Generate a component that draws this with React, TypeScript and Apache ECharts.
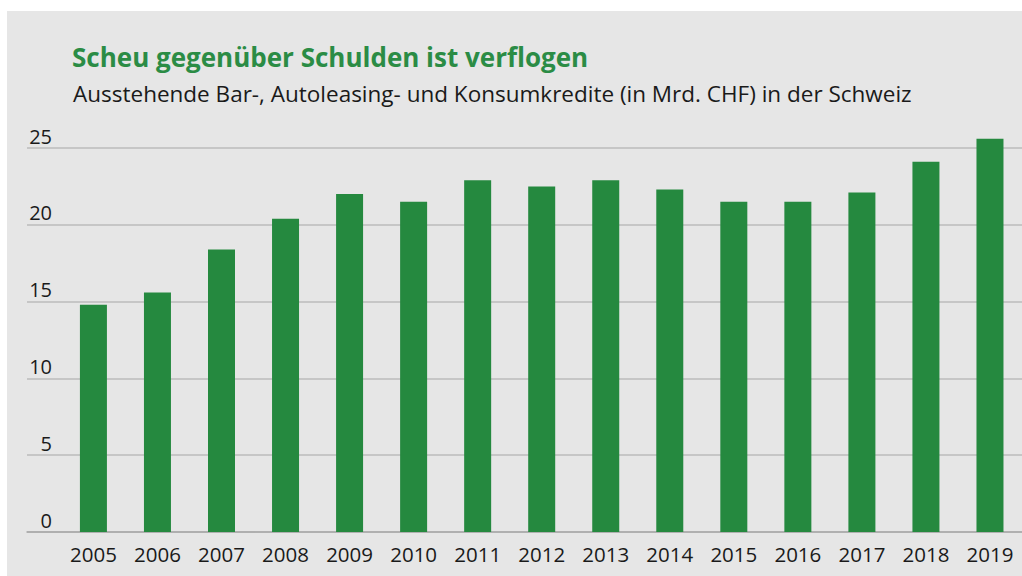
import React, { useEffect, useRef } from "react";
import * as echarts from "echarts";

const years = ["2005", "2006", "2007", "2008", "2009", "2010", "2011", "2012", "2013", "2014", "2015", "2016", "2017", "2018", "2019"];
const credits = [14.8, 15.6, 18.4, 20.4, 22.0, 21.5, 22.9, 22.5, 22.9, 22.3, 21.5, 21.5, 22.1, 24.1, 25.6];
const titleText = "Scheu gegenüber Schulden ist verflogen";
const subtitleText = "Ausstehende Bar-, Autoleasing- und Konsumkredite (in Mrd. CHF) in der Schweiz";

const FONT = "'Open Sans', sans-serif";

export default function App() {
  const ref = useRef<HTMLDivElement>(null);
  useEffect(() => {
    if (!ref.current) return;
    const chart = echarts.init(ref.current, null, { renderer: "svg" });
    chart.setOption({
      animation: false,
      backgroundColor: "#ffffff",
      graphic: [
        { type: "rect", z: -10, shape: { x: 7, y: 11, width: 1015, height: 565 }, style: { fill: "#e6e6e6" } },
      ],
      title: [
        { text: titleText, left: 67, top: 39, textStyle: { fontFamily: FONT, fontWeight: "bold", fontSize: 26, color: "#2b8c45" } },
        { text: subtitleText, left: 68, top: 77, textStyle: { fontFamily: FONT, fontWeight: "normal", fontSize: 22.5, color: "#1a1a1a" } },
      ],
      grid: [
        { left: 27, right: 0, top: 148, bottom: 44 },
        { left: 61.4, width: 963.2, top: 148, bottom: 44 },
      ],
      xAxis: [
        { gridIndex: 0, type: "value", min: 0, max: 1, axisLine: { show: true, lineStyle: { color: "#a8a8a8", width: 1.5 } }, axisTick: { show: false }, axisLabel: { show: false }, splitLine: { show: false } },
        { gridIndex: 1, type: "category", data: years, axisLine: { show: false }, axisTick: { show: false }, axisLabel: { fontFamily: FONT, fontSize: 20.5, color: "#1a1a1a", margin: 11 } },
      ],
      yAxis: [
        { gridIndex: 0, type: "value", min: 0, max: 25, interval: 5, axisLine: { show: false }, axisTick: { show: false },
          splitLine: { show: true, lineStyle: { color: "#c6c6c6", width: 2 } },
          axisLabel: { inside: true, margin: 25, align: "right", verticalAlign: "bottom", padding: [0, 0, 2, 0], fontFamily: FONT, fontSize: 20, color: "#1a1a1a", showMinLabel: true } },
        { gridIndex: 1, type: "value", min: 0, max: 25, interval: 5, show: false, splitLine: { show: false } },
      ],
      series: [
        { type: "bar", xAxisIndex: 1, yAxisIndex: 1, data: credits, barWidth: 27, clip: false, itemStyle: { color: "#25893f" } },
      ],
    });
    return () => chart.dispose();
  }, []);
  return (
    <div style={{ position: "absolute", left: 0, top: 0, width: 1022, height: 576 }}>
      <div ref={ref} style={{ width: 1022, height: 576 }} />
    </div>
  );
}
